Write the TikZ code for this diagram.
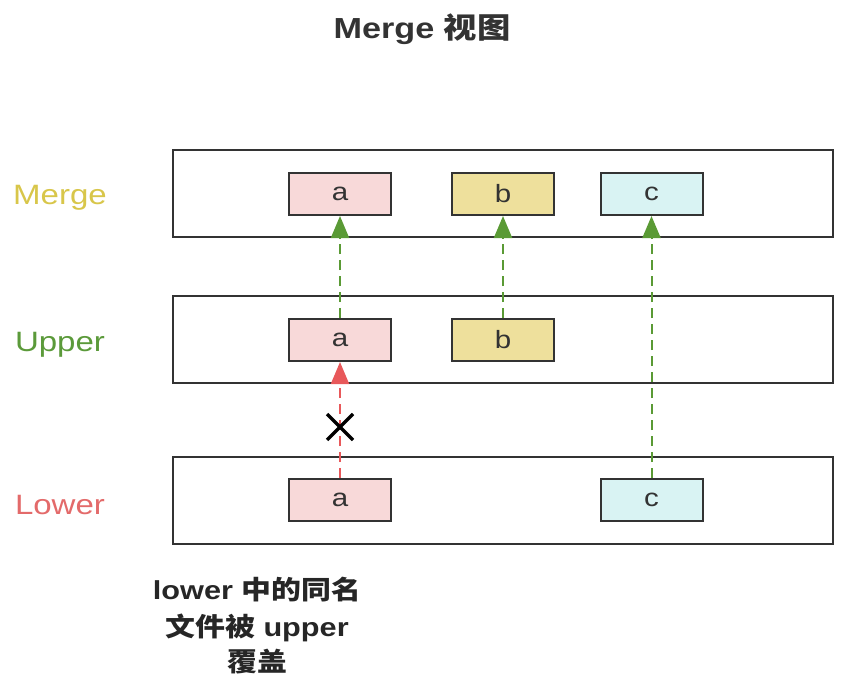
\documentclass[tikz,border=0pt]{standalone}
\usepackage{fontspec}
\setmainfont[FakeStretch=1.18]{Liberation Sans}
\newfontfamily\cjk[FakeStretch=1.15]{Noto Sans CJK SC}
\usetikzlibrary{arrows.meta}
\definecolor{lyellow}{HTML}{D8C64A}
\definecolor{lgreen}{HTML}{5B9A3A}
\definecolor{lred}{HTML}{E36A6A}
\definecolor{fa}{HTML}{F8D9D9}
\definecolor{fb}{HTML}{EEE09C}
\definecolor{fc}{HTML}{D9F3F3}
\definecolor{dk}{HTML}{333333}
\definecolor{garr}{HTML}{5A9A35}
\definecolor{rarr}{HTML}{E8585A}
\tikzset{
  layer/.style={draw=dk, line width=2pt, minimum width=660pt, minimum height=87pt, inner sep=0pt},
  item/.style={draw=dk, line width=2pt, minimum width=102pt, minimum height=42pt, inner sep=0pt, text=dk, font=\fontsize{25}{25}\selectfont},
  lab/.style={font=\fontsize{28}{28}\selectfont, anchor=center},
  garrow/.style={draw=garr, line width=2pt, dash pattern=on 10pt off 6pt, -{Triangle[length=22pt,width=18pt,fill=garr]}},
  rarrow/.style={draw=rarr, line width=2pt, dash pattern=on 10pt off 6pt, -{Triangle[length=22pt,width=18pt,fill=rarr]}},
  captext/.style={font=\bfseries\fontsize{26}{26}\selectfont, text=black!85}
}
\begin{document}
\begin{tikzpicture}[x=1pt,y=-1pt]
\useasboundingbox (0,0) rectangle (848,682);
% title
\node[font=\bfseries\fontsize{29}{29}\selectfont, text=dk] (title) at (422,29) {Merge {\cjk\bfseries 视图}};
% layers
\node[layer] (mergeL) at (503,193.5) {};
\node[layer] (upperL) at (503,339.5) {};
\node[layer] (lowerL) at (503,500.5) {};
% labels
\node[lab, text=lyellow] (mlab) at (60,198) {Merge};
\node[lab, text=lgreen] (ulab) at (60,345) {Upper};
\node[lab, text=lred] (llab) at (60,505) {Lower};
% items
\node[item, fill=fa] (ma) at (340,194) {a};
\node[item, fill=fb] (mb) at (503,194) {b};
\node[item, fill=fc] (mc) at (651.5,194) {c};
\node[item, fill=fa] (ua) at (340,340) {a};
\node[item, fill=fb] (ub) at (503,340) {b};
\node[item, fill=fa] (la) at (340,500) {a};
\node[item, fill=fc] (lc) at (651.5,500) {c};
% arrows
\draw[garrow] (ua.north) -- (ma.south);
\draw[garrow] (ub.north) -- (mb.south);
\draw[garrow] (lc.north) -- (mc.south);
\draw[rarrow] (la.north) -- (ua.south);
% cross
\coordinate (x) at (340,427);
\draw[line width=3.4pt, black] ([shift={(-13,-13)}]x) -- ([shift={(13,13)}]x);
\draw[line width=3.4pt, black] ([shift={(-13,13)}]x) -- ([shift={(13,-13)}]x);
% caption
\node[captext] (c1) at (257,590) {lower {\cjk\bfseries 中的同名}};
\node[captext] (c2) at (257,628) {{\cjk\bfseries 文件被} upper};
\node[captext] (c3) at (257,662) {{\cjk\bfseries 覆盖}};
\end{tikzpicture}
\end{document}
